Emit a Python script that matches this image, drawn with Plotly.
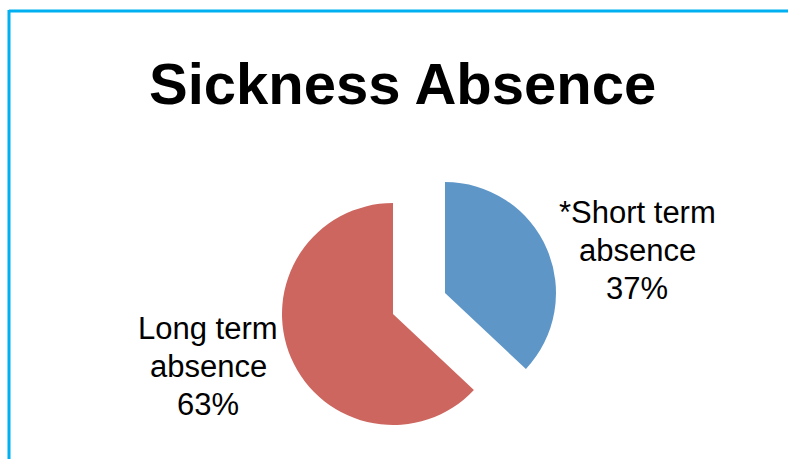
import plotly.graph_objects as go

W, H = 788, 459

title = "Sickness Absence"
categories = ["*Short term absence", "Long term absence"]
label_lines = [["*Short term", "absence"], ["Long term", "absence"]]
values = [37, 63]
colors = ["#5F96C8", "#CD665F"]
transparent = "rgba(0,0,0,0)"

def px_dom(x0, x1, y0, y1):
    return dict(x=[x0 / W, x1 / W], y=[1 - y1 / H, 1 - y0 / H])

fig = go.Figure()
# Main (unpulled) slice
fig.add_trace(go.Pie(
    labels=categories, values=values, sort=False, direction="clockwise", rotation=0,
    marker=dict(colors=[transparent, colors[1]], line=dict(width=0)),
    textinfo="none", hoverinfo="label+percent", showlegend=False,
    domain=px_dom(282, 504, 203, 425),
))
# Exploded slice
fig.add_trace(go.Pie(
    labels=categories, values=values, sort=False, direction="clockwise", rotation=0,
    marker=dict(colors=[colors[0], transparent], line=dict(width=0)),
    textinfo="none", hoverinfo="label+percent", showlegend=False,
    domain=px_dom(334, 556, 182, 404),
))

total = sum(values)
label_pos = [(637, 212), (208, 328)]
line_gap = 38
font_family = "Liberation Sans, Arial, sans-serif"
annotations = [dict(
    text=f"<b>{title}</b>", x=402 / W, y=1 - 83 / H, xref="paper", yref="paper",
    xanchor="center", yanchor="middle", showarrow=False,
    font=dict(family=font_family, size=58, color="#000000"),
)]
for lines, v, (lx, ly) in zip(label_lines, values, label_pos):
    pct = round(100 * v / total)
    for i, ln in enumerate(lines + [f"{pct}%"]):
        annotations.append(dict(
            text=ln, x=lx / W, y=1 - (ly + i * line_gap) / H,
            xref="paper", yref="paper", xanchor="center", yanchor="middle",
            showarrow=False,
            font=dict(family=font_family, size=31, color="#000000"),
        ))

border = "#00B0F0"
shapes = [
    dict(type="line", xref="paper", yref="paper", x0=9 / W, x1=1.0, y0=1 - 11 / H, y1=1 - 11 / H,
         line=dict(color=border, width=3)),
    dict(type="line", xref="paper", yref="paper", x0=9 / W, x1=9 / W, y0=1 - 10 / H, y1=0,
         line=dict(color=border, width=3)),
]

fig.update_layout(
    width=W, height=H, margin=dict(l=0, r=0, t=0, b=0),
    paper_bgcolor="#FFFFFF", plot_bgcolor="#FFFFFF",
    annotations=annotations, shapes=shapes, showlegend=False,
)

fig.write_html("out.html")
